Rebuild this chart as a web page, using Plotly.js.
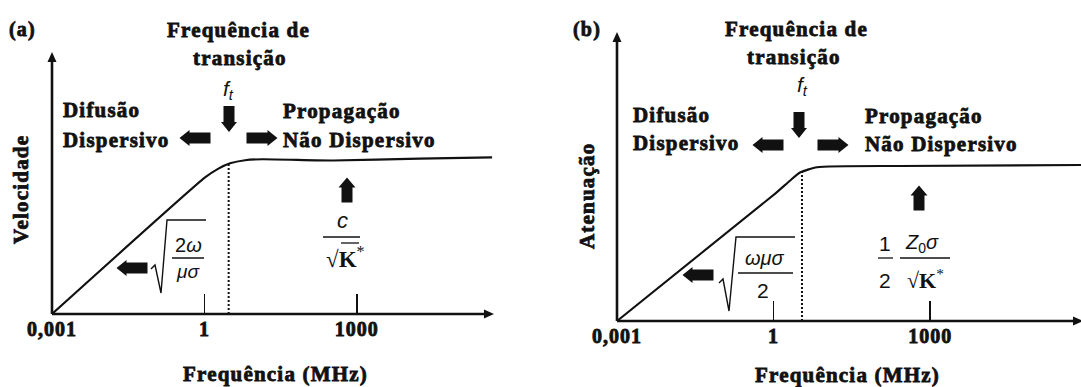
<!DOCTYPE html>
<html><head><meta charset="utf-8">
<script src="https://cdn.plot.ly/plotly-3.0.1.min.js"></script>
<style>html,body{margin:0;padding:0;background:#fff}#chart{width:1081px;height:387px}</style>
</head><body><div id="chart"></div>
<script>
// ---------------- data ----------------
const tickValues = [0.001, 1, 1000];
const tickLabels = ['0,001', '1', '1000'];
const panelLabels = ['(a)', '(b)'];
const yTitles = ['Velocidade', 'Atenuação'];
const xTitle = 'Frequência (MHz)';
const topTitle = ['Frequência de', 'transição'];
const leftRegion = ['Difusão', 'Dispersivo'];
const rightRegion = ['Propagação', 'Não Dispersivo'];

// panel (a): velocity vs frequency (MHz), arbitrary units
const freqA = [0.001, 1.03, 1.85, 3.2, 6.3, 14, 340, 17000, 460000];
const velocity = [0, 0.87, 0.925, 0.96, 0.98, 0.986, 0.978, 0.99, 0.998];
// panel (b): attenuation vs frequency (MHz), arbitrary units
const freqB = [0.001, 1.06, 2.06, 3.2, 6.8, 263, 776000];
const attenuation = [0, 0.82, 0.905, 0.958, 0.992, 1.0, 1.006];
// transition frequency f_t and curve level there
const transitionFreq = [3.0, 3.5];
const transitionLevel = [0.955, 0.975];

// ---------------- layout helpers ----------------
const W = 1081, H = 387;
const X = px => px / W;
const Y = py => 1 - py / H;
const SERIF = 'Liberation Serif, Times New Roman, serif';
const SANS = 'Liberation Sans, Arial, sans-serif';
const INK = '#111';
const sp = (s, ls) => `<span style="letter-spacing:${ls === undefined ? 1.2 : ls}px;stroke:#111;stroke-width:0.8px">${s}</span>`;

function T(text, px, py, o) {
  o = o || {};
  return {
    xref: 'paper', yref: 'paper', x: X(px), y: Y(py), text: text, showarrow: false,
    xanchor: o.xa || 'center', yanchor: 'middle', textangle: o.angle || 0,
    font: {family: o.family || SERIF, size: o.size || 20, color: INK, weight: o.weight === undefined ? 700 : o.weight}
  };
}
function pathOf(pts, close) {
  return pts.map((p, i) => (i ? 'L' : 'M') + X(p[0]).toFixed(5) + ',' + Y(p[1]).toFixed(5)).join(' ') + (close ? ' Z' : '');
}
function blockArrow(cx, cy, dir, L, b, h, hl) {
  const pts = [[-L/2, -b/2], [L/2-hl, -b/2], [L/2-hl, -h/2], [L/2, 0], [L/2-hl, h/2], [L/2-hl, b/2], [-L/2, b/2]];
  const rot = {right: p => p, left: p => [-p[0], p[1]], down: p => [p[1], p[0]], up: p => [p[1], -p[0]]}[dir];
  return {type: 'path', xref: 'paper', yref: 'paper', path: pathOf(pts.map(rot).map(p => [cx + p[0], cy + p[1]]), true),
    fillcolor: INK, line: {width: 0}};
}
function poly(pts, w) {
  return {type: 'path', xref: 'paper', yref: 'paper', path: pathOf(pts, false), line: {color: INK, width: w || 1.3}};
}
// axis line with a small triangular head; (x0,y0) origin, (x1,y1) tip, in pixels
function axisArrow(x0, y0, x1, y1) {
  const dx = x1 - x0, dy = y1 - y0, n = Math.hypot(dx, dy), ux = dx / n, uy = dy / n;
  const hl = 10, hw = 4.5;
  const bx = x1 - ux * hl, by = y1 - uy * hl;
  return [
    {type: 'line', xref: 'paper', yref: 'paper', x0: X(x0), y0: Y(y0), x1: X(bx + ux * 2), y1: Y(by + uy * 2), line: {color: INK, width: 2.6}},
    {type: 'path', xref: 'paper', yref: 'paper', fillcolor: INK, line: {width: 0},
      path: pathOf([[x1, y1], [bx - uy * hw, by + ux * hw], [bx + uy * hw, by - ux * hw]], true)}
  ];
}

// ---------------- traces ----------------
const traces = [
  {x: freqA, y: velocity, xaxis: 'x', yaxis: 'y', mode: 'lines', line: {color: INK, width: 2.1, shape: 'spline', smoothing: 0.5}, hoverinfo: 'skip'},
  {x: [transitionFreq[0], transitionFreq[0]], y: [0, transitionLevel[0]], xaxis: 'x', yaxis: 'y', mode: 'lines', line: {color: INK, width: 2, dash: '2px,2px'}, hoverinfo: 'skip'},
  {x: freqB, y: attenuation, xaxis: 'x2', yaxis: 'y2', mode: 'lines', line: {color: INK, width: 2.1, shape: 'spline', smoothing: 0.5}, hoverinfo: 'skip'},
  {x: [transitionFreq[1], transitionFreq[1]], y: [0, transitionLevel[1]], xaxis: 'x2', yaxis: 'y2', mode: 'lines', line: {color: INK, width: 2, dash: '2px,2px'}, hoverinfo: 'skip'}
];

const xRangeA = [-3, 5.72], yRangeA = [0, 1.65];
const xRangeB = [-3, 5.89], yRangeB = [0, 1.845];

function xAxis(domain, range, anchor) {
  return {domain: domain, type: 'log', range: range, anchor: anchor,
    tickvals: tickValues, ticktext: tickLabels.map(t => sp(t, 1)), ticks: 'inside', ticklen: 20, tickwidth: 1.6, tickcolor: INK,
    tickfont: {family: SERIF, size: 20, color: INK, weight: 700}, ticklabelstandoff: 1,
    showline: false, showgrid: false, zeroline: false, fixedrange: true};
}
function yAxis(domain, range, anchor) {
  return {domain: domain, range: range, anchor: anchor, showticklabels: false, ticks: '', showline: false,
    showgrid: false, zeroline: false, fixedrange: true};
}

const annotations = [
  // panel (a)
  T(sp(panelLabels[0]), 22, 29),
  T(sp(topTitle[0]), 238, 30, {size: 21}),
  T(sp(topTitle[1]), 240, 58, {size: 21}),
  T('<i>f</i><sub><i>t</i></sub>', 228, 90, {family: SANS, size: 21, weight: 400}),
  T(sp(leftRegion[0]), 61, 110, {xa: 'left', size: 21}),
  T(sp(leftRegion[1]), 61, 140, {xa: 'left', size: 21}),
  T(sp(rightRegion[0]), 281, 111, {xa: 'left', size: 21}),
  T(sp(rightRegion[1]), 281, 140, {xa: 'left', size: 21}),
  T(sp(yTitles[0]), 21, 190, {angle: -90, size: 21}),
  T(sp(xTitle), 275, 374, {size: 21}),
  T('2<i>ω</i>', 188, 245, {family: SANS, size: 20, weight: 400}),
  T('<i>μσ</i>', 188, 271, {family: SANS, size: 19, weight: 400}),
  T('<i>c</i>', 342, 220, {family: SANS, size: 22, weight: 400}),
  T('√<b>K</b><sup>*</sup>', 345, 257, {family: SERIF, size: 23, weight: 400}),

  // panel (b)
  T(sp(panelLabels[1]), 587, 29),
  T(sp(topTitle[0]), 796, 29, {size: 21}),
  T(sp(topTitle[1]), 794, 57, {size: 21}),
  T('<i>f</i><sub><i>t</i></sub>', 802, 86, {family: SANS, size: 21, weight: 400}),
  T(sp(leftRegion[0]), 631, 115, {xa: 'left', size: 21}),
  T(sp(leftRegion[1]), 631, 143, {xa: 'left', size: 21}),
  T(sp(rightRegion[0]), 863, 116, {xa: 'left', size: 21}),
  T(sp(rightRegion[1]), 863, 144, {xa: 'left', size: 21}),
  T(sp(yTitles[1]), 587, 196, {angle: -90, size: 21}),
  T(sp(xTitle), 847, 375, {size: 21}),
  T('<i>ωμσ</i>', 765, 258, {family: SANS, size: 20, weight: 400}),
  T('2', 763, 290, {family: SANS, size: 21, weight: 400}),
  T('1', 885, 243, {family: SANS, size: 21, weight: 400}),
  T('2', 885, 280, {family: SANS, size: 21, weight: 400}),
  T('<i>Z</i><sub>0</sub><i>σ</i>', 922, 243, {family: SANS, size: 20, weight: 400}),
  T('√<b>K</b><sup>*</sup>', 925, 279, {family: SERIF, size: 22, weight: 400})
];

const shapes = [].concat(
  axisArrow(52, 314, 52, 52),
  axisArrow(52, 314, 494, 314),
  axisArrow(617, 321, 617, 32),
  axisArrow(617, 321, 1083, 321),
  [
  // panel (a) block arrows
  blockArrow(229, 119, 'down', 26, 11, 16, 10),
  blockArrow(195, 138, 'left', 31, 11, 16, 10),
  blockArrow(262, 138, 'right', 31, 11, 16, 10),
  blockArrow(132, 268, 'left', 31, 11, 16, 10),
  blockArrow(347, 190, 'up', 25, 11, 17, 10),
  // panel (a) radicals and bars
  poly([[151, 269], [155, 265], [161, 293], [167, 220], [206, 220]], 1.4),
  poly([[172, 258], [204, 258]], 1.3),
  poly([[323, 237], [360, 237]], 1.6),
  poly([[341, 243], [359, 243]], 1.3),

  // panel (b) block arrows
  blockArrow(799, 125, 'down', 26, 11, 16, 10),
  blockArrow(768, 145, 'left', 31, 11, 16, 10),
  blockArrow(833, 145, 'right', 31, 11, 16, 10),
  blockArrow(698, 275, 'left', 31, 11, 16, 10),
  blockArrow(919, 198, 'up', 25, 11, 17, 10),
  // panel (b) radicals and bars
  poly([[719, 283], [723, 279], [729, 311], [736, 237], [795, 237]], 1.4),
  poly([[738, 273], [793, 273]], 1.3),
  poly([[878, 258], [893, 258]], 1.3),
  poly([[900, 258], [950, 258]], 1.3)
  ]
);

const layout = {
  width: W, height: H, margin: {l: 0, r: 0, t: 0, b: 0, pad: 0},
  paper_bgcolor: '#fff', plot_bgcolor: 'rgba(0,0,0,0)', showlegend: false,
  xaxis: xAxis([X(52), X(495)], xRangeA, 'y'),
  yaxis: yAxis([Y(314), Y(55)], yRangeA, 'x'),
  xaxis2: xAxis([X(617), 1], xRangeB, 'y2'),
  yaxis2: yAxis([Y(321), Y(35)], yRangeB, 'x2'),
  annotations: annotations, shapes: shapes
};

Plotly.newPlot('chart', traces, layout, {staticPlot: true, displayModeBar: false});
</script>
</body></html>
